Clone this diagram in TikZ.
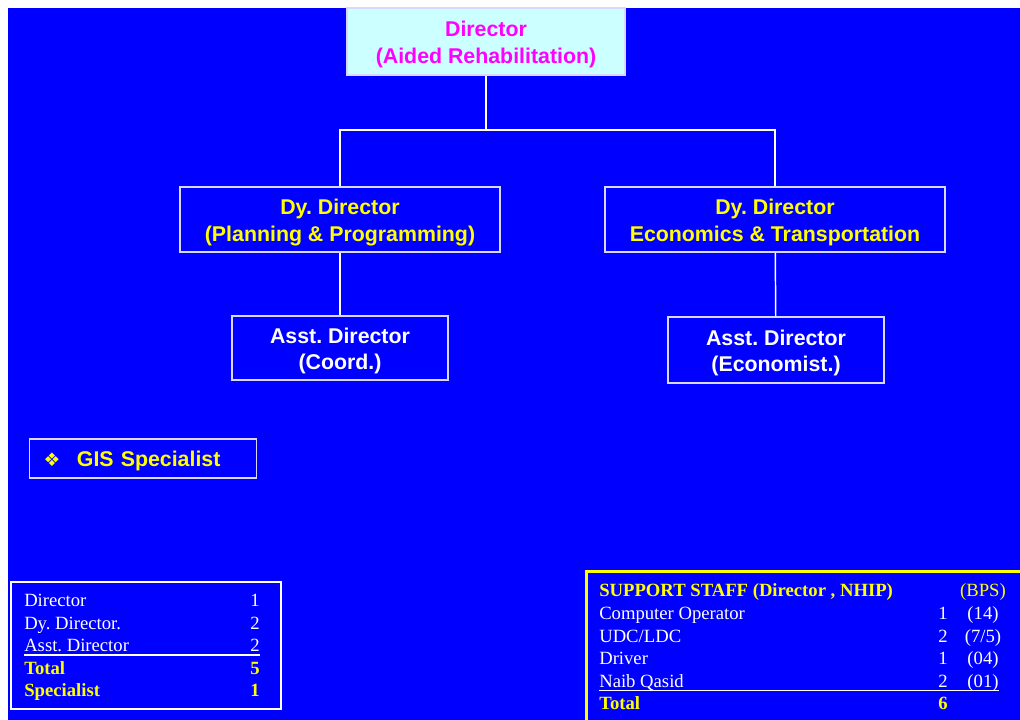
\documentclass[tikz,border=0pt]{standalone}
\usepackage{fontspec}
\setmainfont{Liberation Serif}
\newfontfamily\arialfont{Liberation Sans}
\newfontfamily\dingfont{DejaVu Sans}
\usetikzlibrary{positioning}
\frenchspacing
\definecolor{slideblue}{RGB}{0,0,255}
\definecolor{headfill}{RGB}{204,255,255}
\definecolor{headtext}{RGB}{255,0,255}
\definecolor{boxline}{RGB}{215,215,255}
\definecolor{tabyellow}{RGB}{255,255,0}
\newcommand{\topstrut}{\rule{0pt}{16pt}}
\tikzset{
	orgbox/.style={draw=boxline, line width=0.9pt, fill=slideblue, align=center, inner sep=0pt,
		font=\arialfont\bfseries\fontsize{16}{20}\selectfont},
	link/.style={draw=white, line width=1.1pt},
	tabtext/.style={inner sep=0pt, text=white, font=\fontsize{14}{17}\selectfont},
	tabhead/.style={tabtext, text=tabyellow, font=\bfseries\fontsize{14}{17}\selectfont},
}

\begin{document}
\begin{tikzpicture}[x=0.75pt,y=-0.75pt]
	\useasboundingbox (0,0) rectangle (1020,720);
	\fill[slideblue] (8,8) rectangle (1020,720);

	% chart
	\node[orgbox, fill=headfill, text=headtext, minimum width=208.5pt, minimum height=50.25pt] (dir) at (486,41.5) {\topstrut Director\\(Aided Rehabilitation)};
	\node[orgbox, text=tabyellow, minimum width=240pt, minimum height=48.75pt] (ddplan) at (340,219.5) {\topstrut Dy. Director\\(Planning \& Programming)};
	\node[orgbox, text=tabyellow, minimum width=255pt, minimum height=48.75pt] (ddecon) at (775,219.5) {\topstrut Dy. Director\\Economics \& Transportation};
	\node[orgbox, text=white, minimum width=162pt, minimum height=48pt] (adcoord) at (340,348) {\topstrut Asst. Director\\(Coord.)};
	\node[orgbox, text=white, minimum width=162pt, minimum height=49.5pt] (adecon) at (776,350) {\topstrut Asst. Director\\(Economist.)};
	\coordinate (bus) at (486,130);

	\draw[link] (dir) -- (bus);
	\draw[link] (bus) -| (ddplan);
	\draw[link] (bus) -| (ddecon);
	\draw[link] (ddplan) -- (adcoord);
	\draw[link] (ddecon) -- (adecon);

	\node[orgbox, text=tabyellow, anchor=west, text width=149.25pt, minimum height=29.25pt, inner xsep=10.5pt, align=left] (gis) at (29,458.5)
		{\topstrut\makebox[25pt][l]{\dingfont\fontsize{14}{14}\selectfont ❖}GIS Specialist};

	% left table
	\draw[white, line width=2.2pt] (11,582) rectangle (281,709);
	\foreach \post/\num/\y in {Director/1/606.5, Dy. Director./2/629, Asst. Director/2/651.5} {
		\node[tabtext, anchor=base west] at (24,\y) {\post};
		\node[tabtext, anchor=base east] at (260,\y) {\num};
	}
	\draw[white, line width=0.8pt] (24,655) -- (260,655);
	\node[tabhead, anchor=base west] at (24,674) {Total};
	\node[tabhead, anchor=base east] at (260,674) {5};
	\node[tabhead, anchor=base west] at (24,696.5) {Specialist};
	\node[tabhead, anchor=base east] at (260,696.5) {1};

	% right table
	\draw[tabyellow, line width=2.2pt] (586.5,571.5) rectangle (1030,730);
	\node[tabhead, anchor=base west] at (599,596.5) {SUPPORT STAFF (Director , NHIP)};
	\node[tabtext, text=tabyellow, anchor=base] at (983,596.5) {(BPS)};
	\foreach \post/\num/\bps/\y in {Computer Operator/1/(14)/619.5, {UDC/LDC}/2/{(7/5)}/642, Driver/1/(04)/664.5, Naib Qasid/2/(01)/687} {
		\node[tabtext, anchor=base west] at (599,\y) {\post};
		\node[tabtext, anchor=base] at (943,\y) {\num};
		\node[tabtext, anchor=base] at (983,\y) {\bps};
	}
	\draw[white, line width=0.8pt] (599,690.5) -- (999,690.5);
	\node[tabhead, anchor=base west] at (599,709) {Total};
	\node[tabhead, anchor=base] at (943,709) {6};
\end{tikzpicture}
\end{document}
